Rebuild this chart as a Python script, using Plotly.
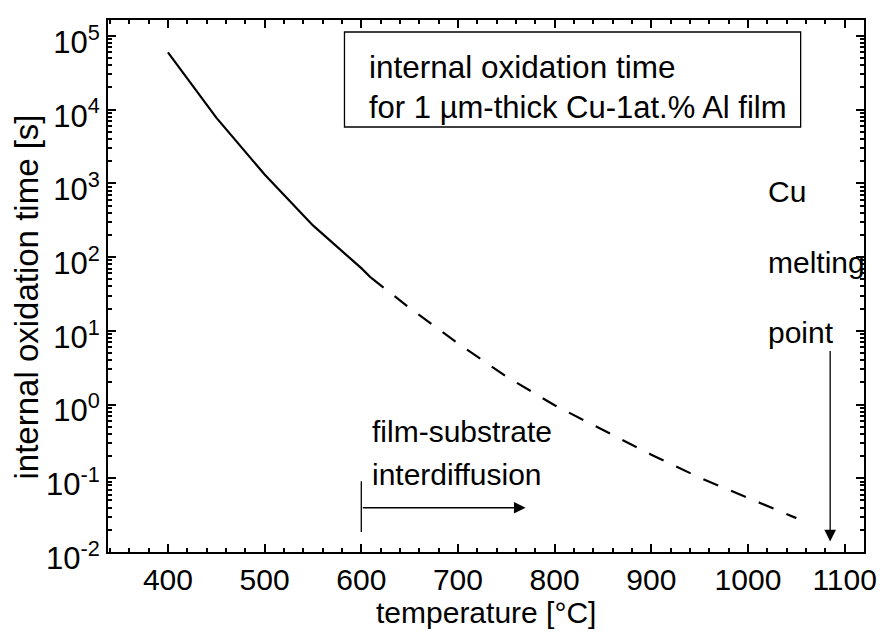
import numpy as np
import plotly.graph_objects as go

# Data
temp_solid = [400, 450, 500, 550, 600, 610]
time_solid = [6.0e4, 7.8e3, 1.32e3, 269, 70.8, 52.5]
temp_dash = [610, 650, 700, 750, 800, 850, 900, 950, 1000, 1050]
time_dash = [52.5, 20.4, 6.76, 2.40, 0.977, 0.447, 0.209, 0.102, 0.0537, 0.0288]

x_ticks = [400, 500, 600, 700, 800, 900, 1000, 1100]
y_exps = [-2, -1, 0, 1, 2, 3, 4, 5]
y_ticks = [10.0 ** e for e in y_exps]
y_ticktext = ["10<sup>%d</sup>" % e for e in y_exps]
y_minor = [m * 10.0 ** e for e in y_exps[:-1] for m in range(2, 10)] + [2e5]

melting_point = 1085
interdiff_start = 600
interdiff_end = 770

FONT = "Liberation Sans, Arial, sans-serif"
FS = 30

fig = go.Figure()
fig.add_trace(go.Scatter(x=temp_solid, y=time_solid, mode="lines",
                         line=dict(color="black", width=2.2), showlegend=False))
fig.add_trace(go.Scatter(x=temp_dash, y=time_dash, mode="lines",
                         line=dict(color="black", width=2.2, dash="16px,14px"),
                         showlegend=False))

fig.update_layout(
    width=889, height=633,
    margin=dict(l=108, r=17, t=20, b=81),
    paper_bgcolor="white", plot_bgcolor="white",
    font=dict(family=FONT, size=FS, color="black"),
    xaxis=dict(
        range=[338, 1120], tickmode="array", tickvals=x_ticks,
        ticks="inside", ticklen=8, tickwidth=2, tickcolor="black",
        showline=True, linewidth=2, linecolor="black", mirror="allticks",
        showgrid=False, zeroline=False,
        minor=dict(dtick=20, tick0=0, ticks="inside", ticklen=4, tickwidth=1.5,
                   tickcolor="black", showgrid=False),
        tickfont=dict(family=FONT, size=FS),
    ),
    yaxis=dict(
        type="log", range=[-2, 5.216], tickmode="array",
        tickvals=y_ticks, ticktext=y_ticktext,
        ticks="inside", ticklen=8, tickwidth=2, tickcolor="black",
        showline=True, linewidth=2, linecolor="black", mirror="allticks",
        showgrid=False, zeroline=False,
        minor=dict(tickmode="array", tickvals=y_minor, ticks="inside", ticklen=4,
                   tickwidth=1.5, tickcolor="black", showgrid=False),
        tickfont=dict(family=FONT, size=31),
        ticklabelshift=6,
    ),
)

# axis titles
fig.add_annotation(xref="paper", yref="paper", x=0.5, y=-0.113, xanchor="center", yanchor="middle",
                   text="temperature [°C]", showarrow=False, font=dict(size=FS))
fig.add_annotation(xref="paper", yref="paper", x=-0.108, y=0.479, xanchor="center", yanchor="middle",
                   text="internal oxidation time [s]", textangle=-90, showarrow=False,
                   font=dict(size=33))

# legend-like box
fig.add_shape(type="rect", xref="paper", yref="paper",
              x0=0.3128, x1=0.9162, y0=0.7989, y1=0.9774,
              line=dict(color="black", width=1.3), fillcolor="white")
fig.add_annotation(xref="paper", yref="paper", x=0.343, y=0.912, xanchor="left", yanchor="middle",
                   text="internal oxidation time", showarrow=False, font=dict(size=31.5))
fig.add_annotation(xref="paper", yref="paper", x=0.343, y=0.835, xanchor="left", yanchor="middle",
                   text="for 1 µm-thick Cu-1at.% Al film", showarrow=False, font=dict(size=31))

# melting point
for txt, ly in [("Cu", 2.886), ("melting", 1.924), ("point", 0.976)]:
    fig.add_annotation(x=1019, y=ly, xref="x", yref="y", xanchor="left",
                       text=txt, showarrow=False, font=dict(size=FS))
fig.add_annotation(x=melting_point, y=-1.856, ax=melting_point, ay=0.745,
                   xref="x", yref="y", axref="x", ayref="y", text="",
                   showarrow=True, arrowhead=2, arrowsize=1.8, arrowwidth=1.3, arrowcolor="black")

# interdiffusion
fig.add_annotation(x=609, y=-0.366, xref="x", yref="y", xanchor="left",
                   text="film-substrate", showarrow=False, font=dict(size=FS))
fig.add_annotation(x=609, y=-0.942, xref="x", yref="y", xanchor="left",
                   text="interdiffusion", showarrow=False, font=dict(size=FS))
fig.add_shape(type="line", xref="x", yref="y", x0=interdiff_start, x1=interdiff_start,
              y0=10 ** -1.04, y1=10 ** -1.73, line=dict(color="black", width=1.3))
fig.add_annotation(x=interdiff_end, y=-1.40, ax=interdiff_start, ay=-1.40,
                   xref="x", yref="y", axref="x", ayref="y", text="",
                   showarrow=True, arrowhead=2, arrowsize=1.8, arrowwidth=1.3, arrowcolor="black")

fig.write_html("out.html")
